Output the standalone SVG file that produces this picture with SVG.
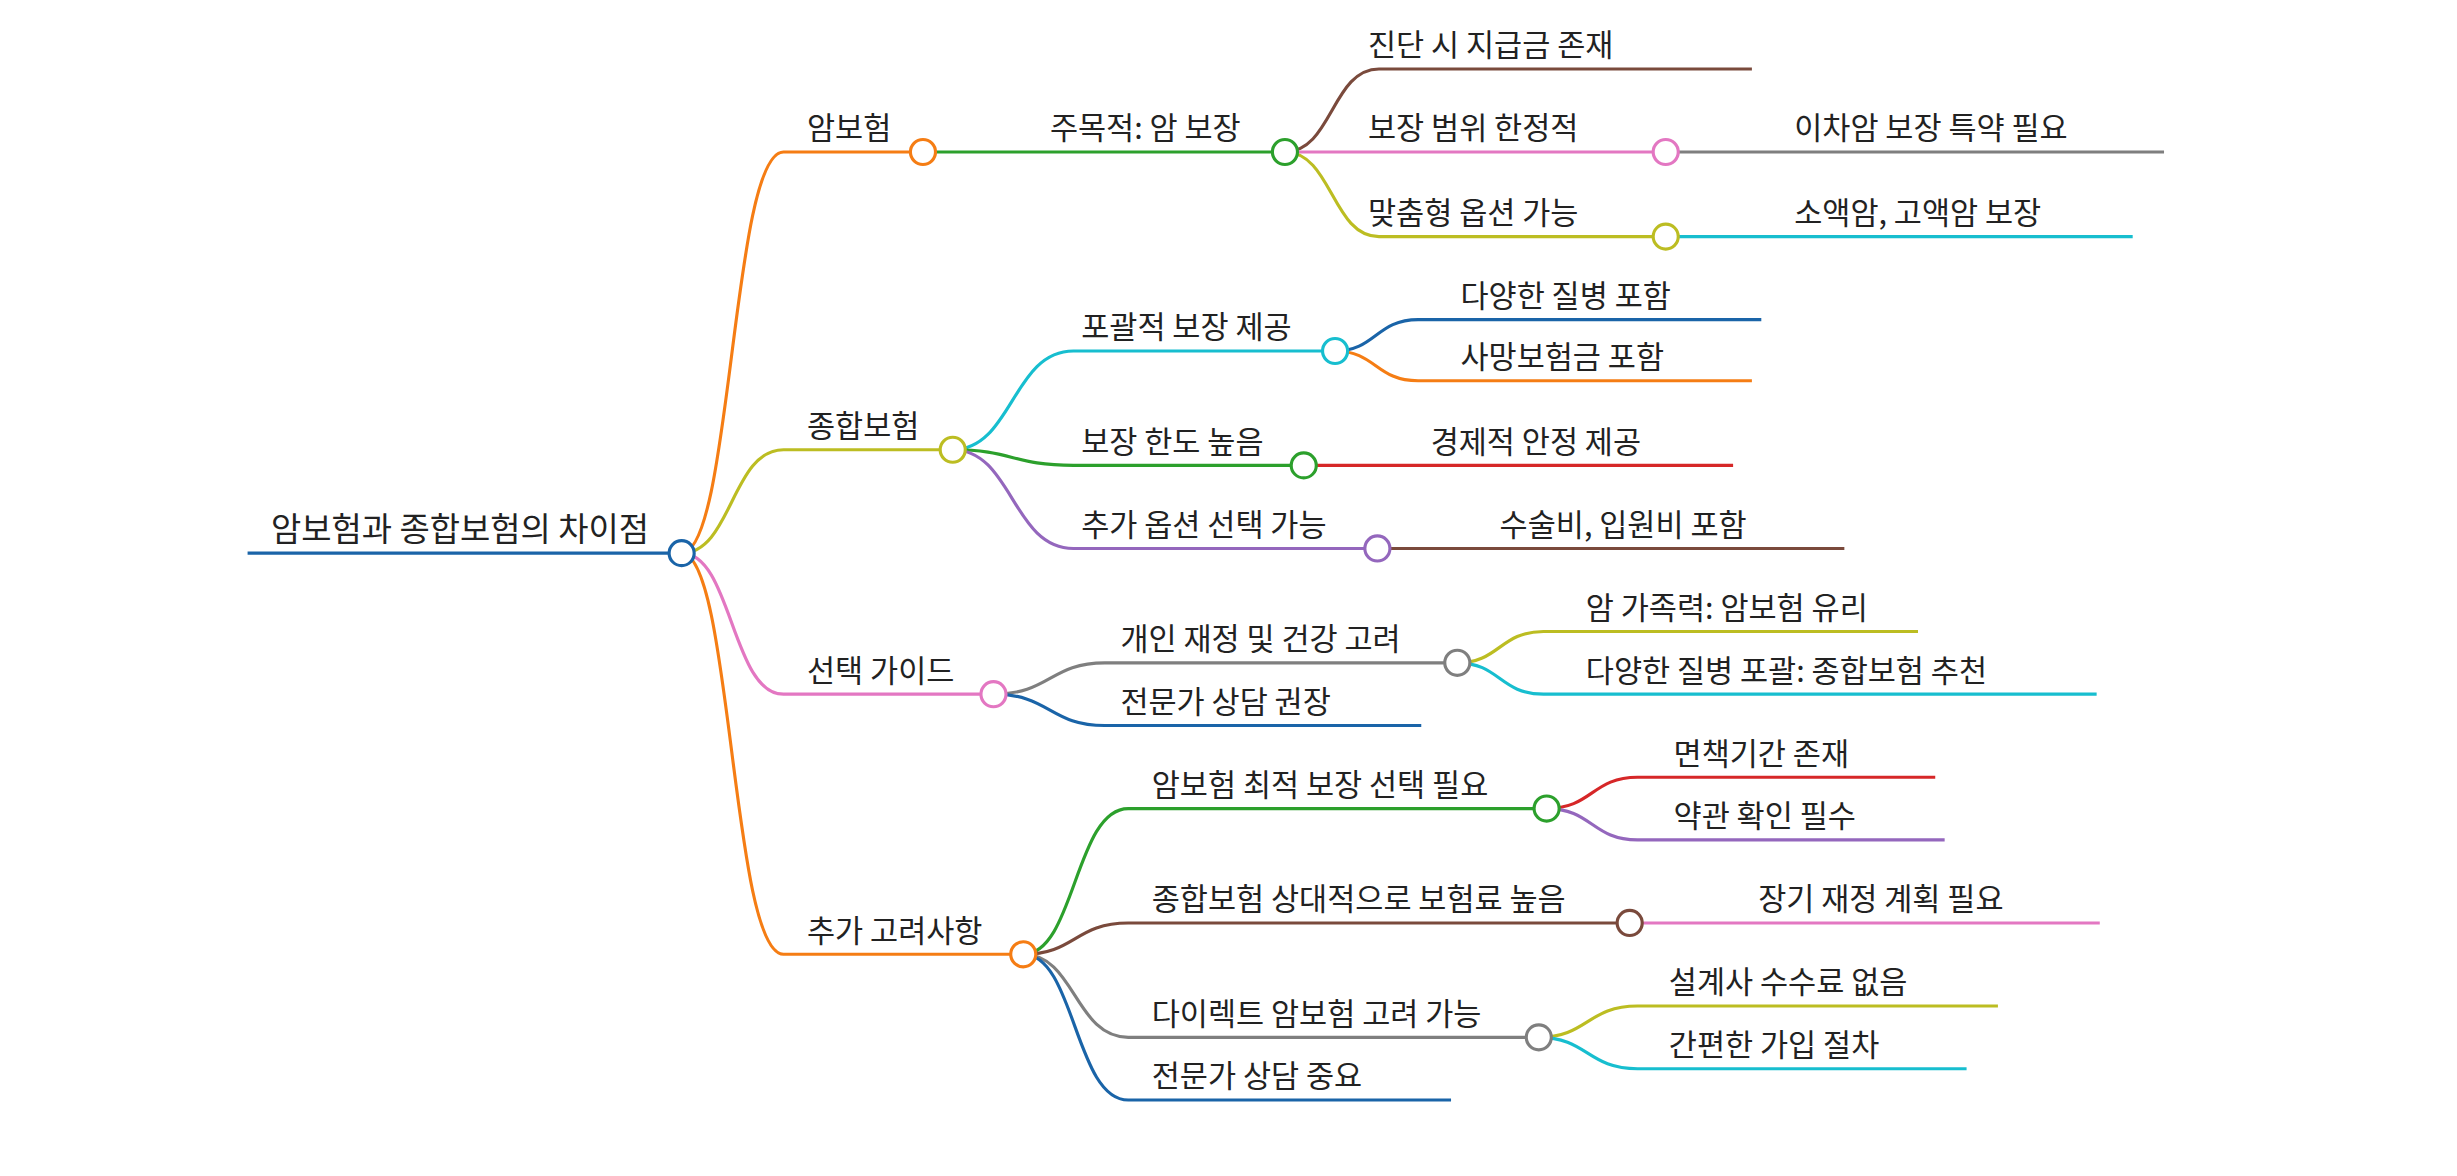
<svg xmlns="http://www.w3.org/2000/svg" width="2457" height="1176" viewBox="0 0 2457 1176">
<style>
text{font-family:"Noto Sans CJK KR","Noto Sans",sans-serif;font-size:19.5px;fill:#222}
path{fill:none;stroke-width:2}
circle{fill:#fff;stroke-width:2}
.or{stroke:#f57d14}.gr{stroke:#2ca02c}.rd{stroke:#d62728}.pu{stroke:#9467bd}.br{stroke:#7a4a3c}.pk{stroke:#e377c2}.gy{stroke:#7f7f7f}.ol{stroke:#bcbd22}.cy{stroke:#17becf}.bl{stroke:#1a64a8}
</style>
<rect width="2457" height="1176" fill="#fff"/>
<g transform="scale(1.567)">
<g id="connectors">
<path class="bl" d="M158,353H435" stroke-width="3"/>
<path class="or" d="M435,353C467,353 467,97 500,97H589"/>
<path class="ol" d="M435,353C467,353 467,287 500,287H608"/>
<path class="pk" d="M435,353C467,353 467,443 500,443H634"/>
<path class="or" d="M435,353C467,353 467,609 500,609H653"/>
<path class="gr" d="M589,97H820"/>
<path class="br" d="M820,97C850,97 850,44 880,44H1118"/>
<path class="pk" d="M820,97H1063"/>
<path class="ol" d="M820,97C850,97 850,151 880,151H1063"/>
<path class="gy" d="M1063,97H1381"/>
<path class="cy" d="M1063,151H1361"/>
<path class="cy" d="M608,287C646,287 646,224 685,224H852"/>
<path class="gr" d="M608,287C646,287 646,297 685,297H832"/>
<path class="pu" d="M608,287C646,287 646,350 685,350H879"/>
<path class="bl" d="M852,224C878,224 878,204 905,204H1124"/>
<path class="or" d="M852,224C878,224 878,243 905,243H1118"/>
<path class="rd" d="M832,297H1106"/>
<path class="br" d="M879,350H1177"/>
<path class="gy" d="M634,443C670,443 670,423 705,423H930"/>
<path class="bl" d="M634,443C670,443 670,463 705,463H907"/>
<path class="ol" d="M930,423C957,423 957,403 985,403H1224"/>
<path class="cy" d="M930,423C957,423 957,443 985,443H1338"/>
<path class="gr" d="M653,609C686,609 686,516 720,516H987"/>
<path class="br" d="M653,609C686,609 686,589 720,589H1040"/>
<path class="gy" d="M653,609C686,609 686,662 720,662H982"/>
<path class="bl" d="M653,609C686,609 686,702 720,702H926"/>
<path class="rd" d="M987,516C1016,516 1016,496 1045,496H1235"/>
<path class="pu" d="M987,516C1016,516 1016,536 1045,536H1241"/>
<path class="pk" d="M1040,589H1340"/>
<path class="ol" d="M982,662C1013,662 1013,642 1045,642H1275"/>
<path class="cy" d="M982,662C1013,662 1013,682 1045,682H1255"/>
</g>
<g id="root"><circle class="bl" cx="435" cy="353" r="8"/><text x="173" y="345" style="font-size:21px">암보험과 종합보험의 차이점</text></g>
<g id="n1"><circle class="or" cx="589" cy="97" r="8"/><text x="515" y="89">암보험</text></g>
<g id="n1a"><circle class="gr" cx="820" cy="97" r="8"/><text x="670" y="89">주목적: 암 보장</text></g>
<g id="n1a1"><text x="873" y="36">진단 시 지급금 존재</text></g>
<g id="n1a2"><circle class="pk" cx="1063" cy="97" r="8"/><text x="873" y="89">보장 범위 한정적</text></g>
<g id="n1a3"><circle class="ol" cx="1063" cy="151" r="8"/><text x="873" y="143">맞춤형 옵션 가능</text></g>
<g id="n1a2a"><text x="1145" y="89">이차암 보장 특약 필요</text></g>
<g id="n1a3a"><text x="1145" y="143">소액암, 고액암 보장</text></g>
<g id="n2"><circle class="ol" cx="608" cy="287" r="8"/><text x="515" y="279">종합보험</text></g>
<g id="n2a"><circle class="cy" cx="852" cy="224" r="8"/><text x="690" y="216">포괄적 보장 제공</text></g>
<g id="n2a1"><text x="932" y="196">다양한 질병 포함</text></g>
<g id="n2a2"><text x="932" y="235">사망보험금 포함</text></g>
<g id="n2b"><circle class="gr" cx="832" cy="297" r="8"/><text x="690" y="289">보장 한도 높음</text></g>
<g id="n2b1"><text x="913" y="289">경제적 안정 제공</text></g>
<g id="n2c"><circle class="pu" cx="879" cy="350" r="8"/><text x="690" y="342">추가 옵션 선택 가능</text></g>
<g id="n2c1"><text x="957" y="342">수술비, 입원비 포함</text></g>
<g id="n3"><circle class="pk" cx="634" cy="443" r="8"/><text x="515" y="435">선택 가이드</text></g>
<g id="n3a"><circle class="gy" cx="930" cy="423" r="8"/><text x="715" y="415">개인 재정 및 건강 고려</text></g>
<g id="n3b"><text x="715" y="455">전문가 상담 권장</text></g>
<g id="n3a1"><text x="1012" y="395">암 가족력: 암보험 유리</text></g>
<g id="n3a2"><text x="1012" y="435">다양한 질병 포괄: 종합보험 추천</text></g>
<g id="n4"><circle class="or" cx="653" cy="609" r="8"/><text x="515" y="601">추가 고려사항</text></g>
<g id="n4a"><circle class="gr" cx="987" cy="516" r="8"/><text x="735" y="508">암보험 최적 보장 선택 필요</text></g>
<g id="n4a1"><text x="1068" y="488">면책기간 존재</text></g>
<g id="n4a2"><text x="1068" y="528">약관 확인 필수</text></g>
<g id="n4b"><circle class="br" cx="1040" cy="589" r="8"/><text x="735" y="581">종합보험 상대적으로 보험료 높음</text></g>
<g id="n4b1"><text x="1122" y="581">장기 재정 계획 필요</text></g>
<g id="n4c"><circle class="gy" cx="982" cy="662" r="8"/><text x="735" y="654">다이렉트 암보험 고려 가능</text></g>
<g id="n4c1"><text x="1065" y="634">설계사 수수료 없음</text></g>
<g id="n4c2"><text x="1065" y="674">간편한 가입 절차</text></g>
<g id="n4d"><text x="735" y="694">전문가 상담 중요</text></g>
</g>
</svg>
